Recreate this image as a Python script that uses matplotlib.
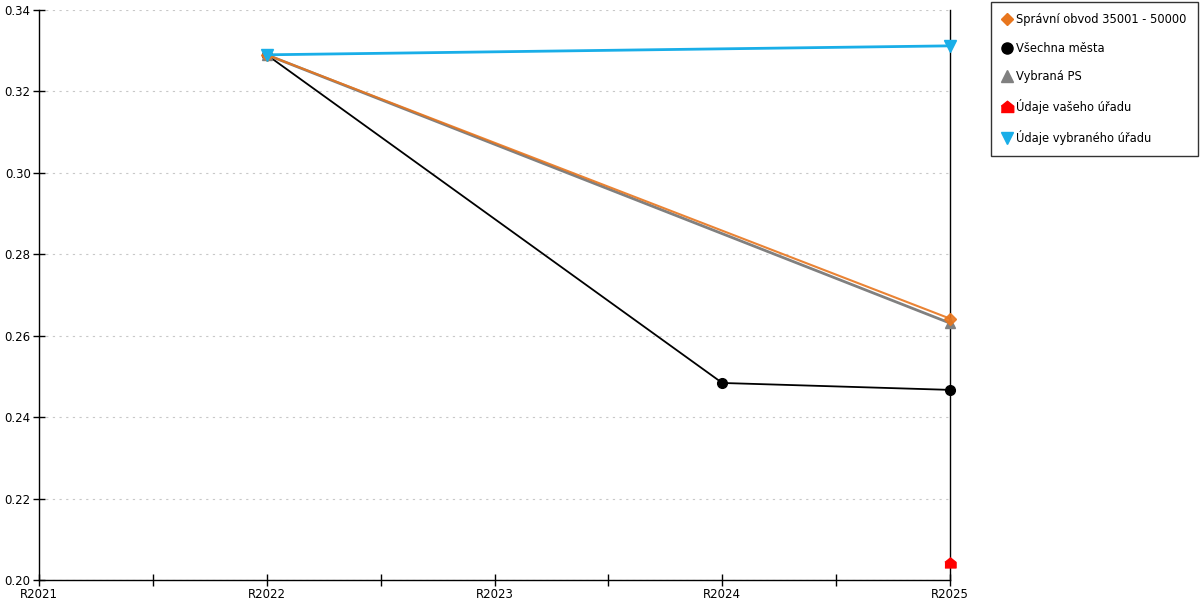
import matplotlib
matplotlib.use("Agg")
import matplotlib.pyplot as plt
from matplotlib.lines import Line2D

# data
years = ["R2021", "R2022", "R2023", "R2024", "R2025"]
x_pos = [0, 2, 4, 6, 8]  # half-year minor ticks between labels

spravni_x = [2, 8]
spravni_y = [0.329, 0.2642]
vsechna_x = [2, 6, 8]
vsechna_y = [0.329, 0.2484, 0.2467]
vybrana_x = [2, 8]
vybrana_y = [0.329, 0.2631]
vas_x = [8]
vas_y = [0.2042]
vybrany_x = [2, 8]
vybrany_y = [0.329, 0.3312]

labels = ["Správní obvod 35001 - 50000", "Všechna města", "Vybraná PS",
          "Údaje vašeho úřadu", "Údaje vybraného úřadu"]
c_orange = "#E8761E"
c_black = "#000000"
c_grey = "#808080"
c_red = "#FF0000"
c_blue = "#19AEE8"
house = [(-1, -0.8), (1, -0.8), (1, 0.2), (0, 1), (-1, 0.2)]

plt.rcParams["font.family"] = ["DejaVu Sans"]
fig = plt.figure(figsize=(12, 6), dpi=100)
ax = fig.add_axes([0.0325, 0.0333, 0.7592, 0.95])

ax.plot(vsechna_x, vsechna_y, color=c_black, lw=1.3, marker="o", ms=7, clip_on=False, zorder=3)
ax.plot(vybrana_x, vybrana_y, color=c_grey, lw=2, marker="^", ms=7, clip_on=False, zorder=3)
ax.plot(spravni_x, spravni_y, color=c_orange, lw=1.5, alpha=0.9, marker="D", ms=6, clip_on=False, zorder=3)
ax.plot(vas_x, vas_y, color=c_red, lw=0, marker=house, ms=8, clip_on=False, zorder=3)
ax.plot(vybrany_x, vybrany_y, color=c_blue, lw=2, marker="v", ms=8, clip_on=False, zorder=3)

ax.set_xlim(0, 8)
ax.set_ylim(0.20, 0.34)
ax.set_xticks(x_pos)
ax.set_xticklabels(years)
ax.set_xticks([1, 3, 5, 7], minor=True)
ax.set_yticks([0.20, 0.22, 0.24, 0.26, 0.28, 0.30, 0.32, 0.34])
ax.set_yticklabels(["%.2f" % v for v in ax.get_yticks()])
ax.tick_params(axis="both", which="both", direction="inout", length=8, width=1,
               labelsize=8.5, pad=2, colors="black")
ax.grid(axis="y", color="#C8C8C8", linestyle=(0, (2, 4)), lw=0.8)
ax.spines["top"].set_visible(False)
for s in ["left", "bottom", "right"]:
    ax.spines[s].set_color("black")
    ax.spines[s].set_linewidth(1)

handles = [
    Line2D([], [], color=c_orange, marker="D", ls="none", ms=6),
    Line2D([], [], color=c_black, marker="o", ls="none", ms=8),
    Line2D([], [], color=c_grey, marker="^", ls="none", ms=8),
    Line2D([], [], color=c_red, marker=house, ls="none", ms=9),
    Line2D([], [], color=c_blue, marker="v", ls="none", ms=8),
]
leg = fig.legend(handles, labels, loc="upper left", bbox_to_anchor=(0.831, 0.997),
                 fontsize=8.3, frameon=True, fancybox=False, edgecolor="black",
                 labelspacing=1.35, handlelength=0.8, handletextpad=0.35,
                 borderpad=1.0, borderaxespad=0)
leg.get_frame().set_linewidth(1)
# keep the legend box inside the figure
fig.canvas.draw()
bb = leg.get_window_extent()
if bb.x1 > fig.bbox.x1 - 1:
    leg.set_bbox_to_anchor((0.831 - (bb.x1 - fig.bbox.x1 + 2) / fig.bbox.width, 0.997))

fig.savefig("out.png", dpi=100)
